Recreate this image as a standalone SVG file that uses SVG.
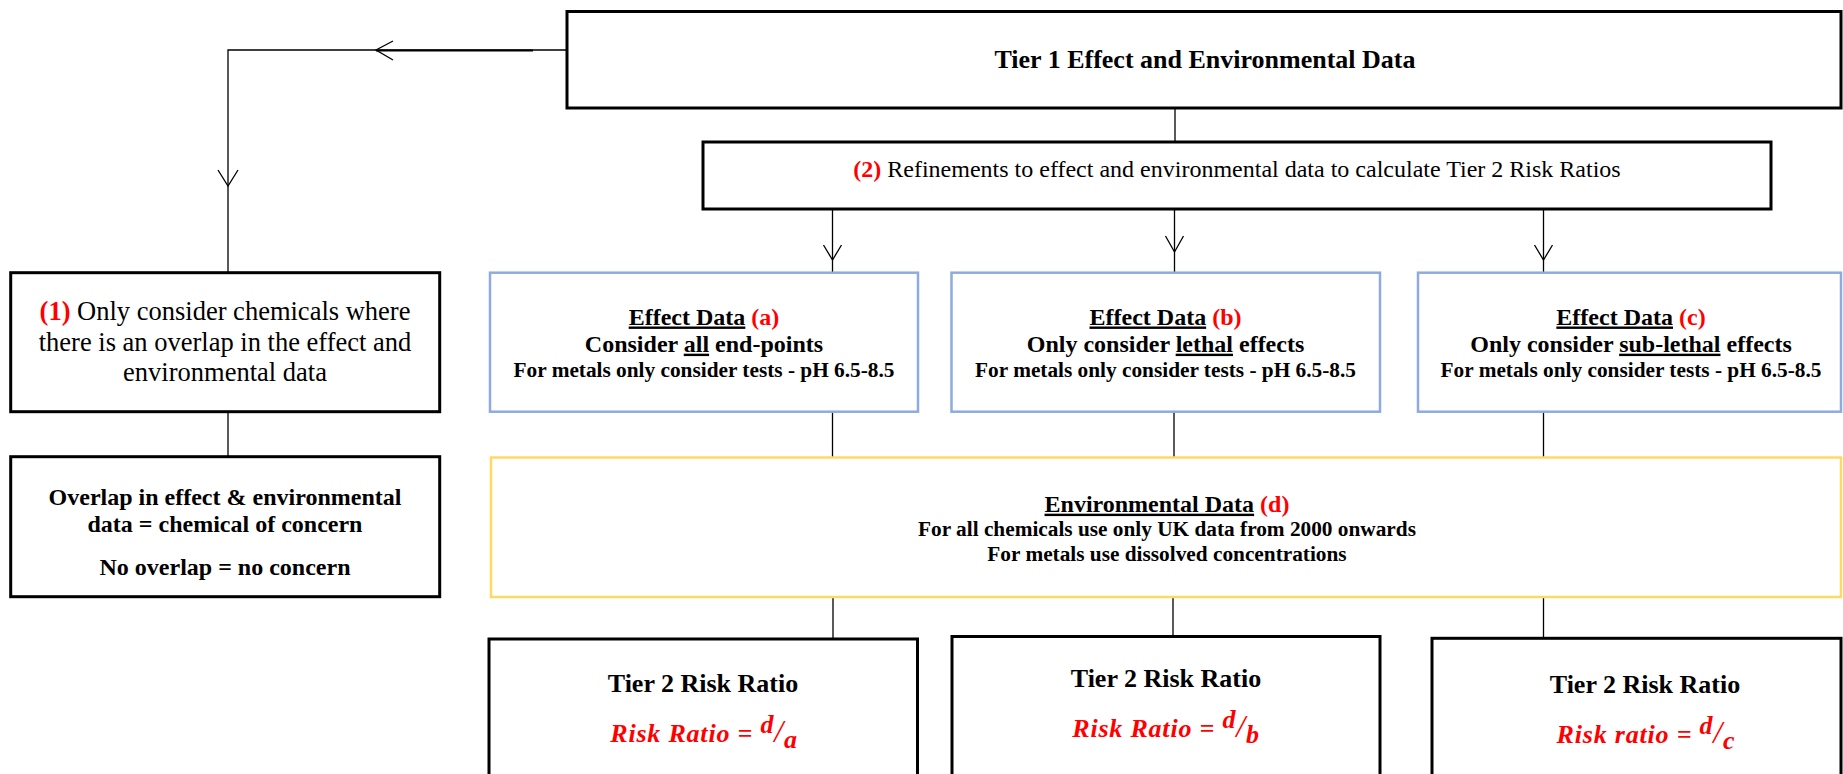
<svg xmlns="http://www.w3.org/2000/svg" width="1843" height="774" viewBox="0 0 1843 774">
<style>
text{font-family:"Liberation Serif","Times New Roman",serif;fill:#000}
.b{font-weight:bold}
.red{fill:#ff0000}
.u{text-decoration:underline}
.box{fill:#fff;stroke:#000;stroke-width:3}
.blue{fill:#fff;stroke:#8faadc;stroke-width:2.5}
.yel{fill:#fff;stroke:#ffd966;stroke-width:2.5}
.ln{fill:none;stroke:#000;stroke-width:1.3}
.ah{fill:none;stroke:#000;stroke-width:1.3}
.f{font-family:"Liberation Serif",serif;font-style:italic;font-weight:bold;fill:#ff0000;font-size:26px;letter-spacing:0.8px}
</style>
<rect width="1843" height="774" fill="#fff"/>
<g id="connectors">
<polyline class="ln" points="567,50 228,50 228,272"/>
<line x1="376" y1="50.5" x2="533" y2="50.5" stroke="#000" stroke-width="2"/>
<path class="ah" d="M393,41 L376,50 L393,60"/>
<path class="ah" d="M218,170 L228,186 L238,170"/>
<line class="ln" x1="1175" y1="108" x2="1175" y2="142"/>
<line class="ln" x1="832.5" y1="209" x2="832.5" y2="272"/>
<line class="ln" x1="1174.5" y1="209" x2="1174.5" y2="272"/>
<line class="ln" x1="1543.5" y1="209" x2="1543.5" y2="272"/>
<path class="ah" d="M823.5,245 L832.5,260 L841.5,245"/>
<path class="ah" d="M1165.5,236 L1174.5,252 L1183.5,236"/>
<path class="ah" d="M1534.5,245 L1543.5,260 L1552.5,245"/>
<line class="ln" x1="228" y1="412" x2="228" y2="457"/>
<line class="ln" x1="832.5" y1="412" x2="832.5" y2="457"/>
<line class="ln" x1="1174" y1="412" x2="1174" y2="457"/>
<line class="ln" x1="1543.5" y1="412" x2="1543.5" y2="457"/>
<line class="ln" x1="833" y1="597" x2="833" y2="639"/>
<line class="ln" x1="1173" y1="597" x2="1173" y2="636"/>
<line class="ln" x1="1543.5" y1="597" x2="1543.5" y2="638"/>
</g>
<g id="tier1">
<rect class="box" x="567" y="11.5" width="1274" height="96.5"/>
<text class="b" x="1205" y="68" font-size="26" text-anchor="middle">Tier 1 Effect and Environmental Data</text>
</g>
<g id="refine">
<rect class="box" x="703" y="142" width="1068" height="67"/>
<text x="1237" y="177" font-size="24" text-anchor="middle"><tspan class="b red">(2)</tspan> Refinements to effect and environmental data to calculate Tier 2 Risk Ratios</text>
</g>
<g id="only-consider">
<rect class="box" x="10.7" y="272.7" width="429" height="139"/>
<text x="225" y="320" font-size="26.5" text-anchor="middle"><tspan class="b red">(1)</tspan> Only consider chemicals where</text>
<text x="225" y="350.7" font-size="26.5" text-anchor="middle">there is an overlap in the effect and</text>
<text x="225" y="380.7" font-size="26.5" text-anchor="middle">environmental data</text>
</g>
<g id="overlap">
<rect class="box" x="10.7" y="456.7" width="429" height="140"/>
<text class="b" x="225" y="505" font-size="24" text-anchor="middle">Overlap in effect &amp; environmental</text>
<text class="b" x="225" y="531.7" font-size="24" text-anchor="middle">data = chemical of concern</text>
<text class="b" x="225" y="575" font-size="24" text-anchor="middle">No overlap = no concern</text>
</g>
<g id="effect-a">
<rect class="blue" x="490" y="272.7" width="428" height="139"/>
<text class="b" x="704" y="324.5" font-size="24" text-anchor="middle"><tspan class="u">Effect Data</tspan> <tspan class="red">(a)</tspan></text>
<text class="b" x="704" y="351.7" font-size="24" text-anchor="middle">Consider <tspan class="u">all</tspan> end-points</text>
<text class="b" x="704" y="377" font-size="21.3" text-anchor="middle">For metals only consider tests - pH 6.5-8.5</text>
</g>
<g id="effect-b">
<rect class="blue" x="951.5" y="272.7" width="428.5" height="139"/>
<text class="b" x="1165.5" y="324.5" font-size="24" text-anchor="middle"><tspan class="u">Effect Data</tspan> <tspan class="red">(b)</tspan></text>
<text class="b" x="1165.5" y="351.7" font-size="24" text-anchor="middle">Only consider <tspan class="u">lethal</tspan> effects</text>
<text class="b" x="1165.5" y="377" font-size="21.3" text-anchor="middle">For metals only consider tests - pH 6.5-8.5</text>
</g>
<g id="effect-c">
<rect class="blue" x="1418" y="272.7" width="423" height="139"/>
<text class="b" x="1631" y="324.5" font-size="24" text-anchor="middle"><tspan class="u">Effect Data</tspan> <tspan class="red">(c)</tspan></text>
<text class="b" x="1631" y="351.7" font-size="24" text-anchor="middle">Only consider <tspan class="u">sub-lethal</tspan> effects</text>
<text class="b" x="1631" y="377" font-size="21.3" text-anchor="middle">For metals only consider tests - pH 6.5-8.5</text>
</g>
<g id="environmental">
<rect class="yel" x="491" y="457.5" width="1350" height="139.5"/>
<text class="b" x="1167" y="511.7" font-size="24" text-anchor="middle"><tspan class="u">Environmental Data</tspan> <tspan class="red">(d)</tspan></text>
<text class="b" x="1167" y="536" font-size="21.3" text-anchor="middle">For all chemicals use only UK data from 2000 onwards</text>
<text class="b" x="1167" y="561" font-size="21.3" text-anchor="middle">For metals use dissolved concentrations</text>
</g>
<g id="tier2-a">
<rect class="box" x="489" y="639" width="428.5" height="160"/>
<text class="b" x="703" y="691.7" font-size="26" text-anchor="middle">Tier 2 Risk Ratio</text>
<text class="f" x="704" y="741.7" text-anchor="middle">Risk Ratio = <tspan dy="-9">d</tspan><tspan dy="9" font-size="32" font-weight="normal">/</tspan><tspan dy="6">a</tspan></text>
</g>
<g id="tier2-b">
<rect class="box" x="952" y="636.5" width="428" height="160"/>
<text class="b" x="1166" y="686.7" font-size="26" text-anchor="middle">Tier 2 Risk Ratio</text>
<text class="f" x="1166" y="736.7" text-anchor="middle">Risk Ratio = <tspan dy="-9">d</tspan><tspan dy="9" font-size="32" font-weight="normal">/</tspan><tspan dy="6">b</tspan></text>
</g>
<g id="tier2-c">
<rect class="box" x="1432" y="638.3" width="409" height="160"/>
<text class="b" x="1645" y="692.7" font-size="26" text-anchor="middle">Tier 2 Risk Ratio</text>
<text class="f" x="1646" y="743" text-anchor="middle">Risk ratio = <tspan dy="-9">d</tspan><tspan dy="9" font-size="32" font-weight="normal">/</tspan><tspan dy="6">c</tspan></text>
</g>
</svg>
